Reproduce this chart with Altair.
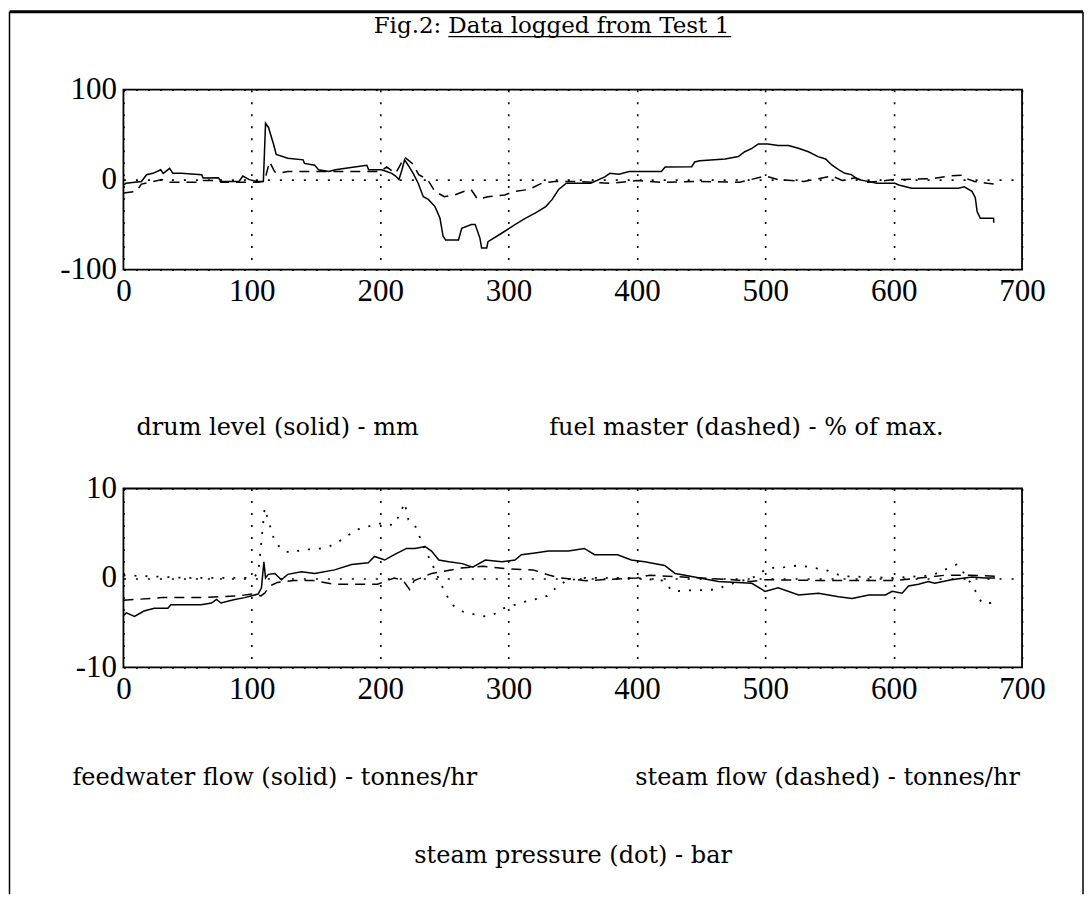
import altair as alt
import pandas as pd

# ---------------- data ----------------
x_ticks = [0, 100, 200, 300, 400, 500, 600, 700]
top_y_ticks = [-100, 0, 100]
bot_y_ticks = [-10, 0, 10]

# top panel: drum level (solid) - mm
drum_t = [0, 2, 14, 18, 23, 29, 31, 36, 38.5, 45, 61, 62, 74, 76, 90, 93, 98, 104, 109,
          110.7, 113, 117, 119, 128, 140, 141, 149, 152, 160, 165, 180, 189.6, 191, 201,
          205, 209, 212, 214.6, 217, 219, 221.8, 225.7, 229.6, 233.6, 237.5, 242.7, 246.6,
          249, 251, 261, 263.5, 271, 274, 277.7, 279, 283, 284, 294.6, 305, 313, 321, 329,
          334, 339, 345, 364, 375, 379, 386, 394, 404, 419, 422, 442.7, 445, 449, 468.7,
          479, 484, 489.6, 494.6, 502, 510, 518, 525.8, 533.6, 541, 547, 551.8, 557, 562,
          567, 570.5, 573, 587, 601, 604, 614, 650.5, 655, 661, 663.6, 665, 667.5, 677.8, 678]
drum_v = [-6, -4, -2, 5.5, 7, 11, 7, 12.6, 7, 7, 5.5, 1.8, 2, -2, -2, 4, 0, -2, -2,
          62.6, 58, 39, 28, 23.7, 22, 18, 16, 11, 9, 11, 14, 16, 11, 11,
          9, 7, 4, 0, 11, 22, 16, 7, -4, -19, -22, -30, -43,
          -63, -67, -67, -54, -50, -50, -65, -76, -76, -69, -59.6, -50, -43, -37, -30,
          -22, -11, -4, -4, 3, 7, 6, 9, 9, 9, 14, 14.4, 19.6, 21, 23,
          25.6, 31, 34.8, 39.6, 39.6, 38, 38, 34.8, 31, 25.6, 23, 16.3, 11, 7,
          5.6, 2, 0, -4, -4, -6, -9.6, -9.6, -8, -13, -20, -35.6, -43, -43, -48]

# top panel: fuel master (dashed) - % of max.
fuel_t = [0, 10, 14, 20, 30, 35, 60, 62, 75, 76, 105, 108, 110, 113.8, 117.7, 120, 128,
          148.5, 160, 180, 200, 205, 212, 219, 225, 230, 237, 242.6, 250, 258, 265.6,
          270.8, 276, 284, 297, 305, 315.6, 326, 336, 350, 380, 400, 420, 450, 480, 500,
          510, 530, 552, 560, 570, 580, 600, 630, 643, 653, 655, 663, 673, 679]
fuel_v = [-15, -13, -5, -3, 0, -3, -3, -1, -1, -3, -3, -2, -1, 20, 9, 7, 9,
          9, 9, 9, 9, 14, 7, 25, 18, 5.6, 0, -13, -19, -17, -13,
          -11, -22, -19, -17, -13, -11, -4, -2, -2, -4, -1, -3, -2, -3, 4,
          0, -2, 4, -1, 2, -3, 0, 1, 4, 5, 2, -2, -4, -5]

# bottom panel: feedwater flow (solid) - tonnes/hr
fw_t = [0, 2.3, 8.6, 16, 24, 34.6, 37, 52.7, 60.5, 68.6, 72.5, 76, 86.7, 94.5, 104.9,
        107.5, 109.4, 110.7, 112.8, 118, 123, 128, 138.7, 149, 164.5, 177.7, 190.7, 195.6,
        203.5, 211, 220.6, 227, 235, 240, 245.7, 253.5, 264, 272, 282, 294.6, 305, 310,
        320.6, 331, 346.6, 359, 367, 385, 395.6, 406, 421.6, 429.7, 437.5, 463.5, 489.5,
        499.8, 510, 526, 541.5, 557, 567.6, 580.6, 593.6, 598.8, 606.6, 611.6, 619.4, 627,
        632, 645, 661, 671, 679]
fw_v = [-4.2, -3.9, -4.3, -3.7, -3.4, -3.4, -3.0, -3.0, -3.0, -2.8, -2.4, -2.8, -2.4, -2.2, -1.8,
        -1.1, 1.8, 0, 0.4, 0.5, -0.2, 0.4, 0.7, 0.5, 0.9, 1.5, 1.7, 2.4,
        2.0, 2.6, 3.3, 3.3, 3.5, 3.0, 2.0, 1.8, 1.6, 1.2, 2.0, 1.8, 2.0, 2.6,
        2.8, 3.0, 3.0, 3.3, 2.6, 2.6, 2.0, 1.8, 1.4, 0.5, 0.3, -0.4, -0.6,
        -1.5, -1.1, -1.9, -1.7, -2.1, -2.3, -1.9, -1.9, -1.5, -1.7, -0.9, -0.7, -0.4,
        -0.6, -0.2, 0.1, 0, 0]

# bottom panel: steam flow (dashed) - tonnes/hr
sf_t = [0, 10, 30, 60, 90, 100, 107, 110, 114, 120, 133, 148, 164, 198, 211, 218, 223,
        226.5, 240, 263, 280, 300, 319, 332, 340, 360, 400, 410, 449, 475, 488, 500, 550,
        600, 640, 660, 679]
sf_v = [-2.5, -2.4, -2.2, -2.2, -2.0, -1.8, -2.0, -1.7, -0.9, -0.5, -0.3, -0.3, -0.7, -0.7, 0, -0.3, -1.3,
        -0.3, 0.5, 1.1, 1.3, 1.0, 0.9, 0.3, 0, -0.3, 0, 0.3, 0, -0.2, -0.4, -0.2, -0.3,
        -0.3, 0.3, 0.3, 0.2]

# bottom panel: steam pressure (dot) - bar
sp_t = [0, 50, 100, 105, 110, 114, 118, 125, 131, 140, 150, 160, 166, 181.6, 192, 201, 210,
        215, 219, 222, 227, 233.6, 242.6, 250, 256, 265, 280, 287, 296, 305, 314, 323, 330,
        337, 345, 360, 400, 420, 428, 440, 462, 470, 490, 502, 515, 526, 536, 549, 560,
        600, 630, 649, 655, 662, 668.7, 676]
sp_v = [0.3, 0, 0, 0.5, 7.8, 5.9, 4.0, 3.0, 2.8, 3.2, 3.2, 3.5, 3.9, 5.4, 5.8, 6.1, 5.9,
        7.0, 8.4, 6.5, 5.9, 3.6, 0.9, -1.5, -3.0, -3.8, -4.3, -4.2, -3.4, -3.0, -2.6, -2.3, -2.0,
        -1.1, -0.3, 0, 0, -0.3, -1.5, -1.4, -1.3, -0.8, 0, 1.1, 1.2, 1.4, 1.2, 0.8, 0.2,
        0, 0.3, 1.5, 0.5, -1.0, -2.8, -2.8]

title_a = "Fig.2:"
title_b = "Data logged from Test 1"
cap_drum = "drum level (solid) - mm"
cap_fuel = "fuel master (dashed) - % of max."
cap_fw = "feedwater flow (solid) - tonnes/hr"
cap_sf = "steam flow (dashed) - tonnes/hr"
cap_sp = "steam pressure (dot) - bar"

# ---------------- chart ----------------
W, H_TOP, H_BOT = 899, 180, 179
one = pd.DataFrame({"k": [0]})
CAP_FONT = "DejaVu Serif"
HYPHEN_LABEL = "replace(datum.label, '\u2212', '-')"


def series(t, v):
    return pd.DataFrame({"t": t, "v": v})


def xenc():
    return alt.X("t:Q", scale=alt.Scale(domain=[0, 700], nice=False, zero=False),
                 axis=alt.Axis(values=x_ticks, title=None, labelPadding=7,
                               labelAngle=0, labelFlush=False))


def yenc(dom, ticks):
    return alt.Y("v:Q", scale=alt.Scale(domain=dom, nice=False, zero=False),
                 axis=alt.Axis(values=ticks, title=None, labelPadding=7,
                               labelBaseline="middle", labelFlush=False,
                               labelExpr=HYPHEN_LABEL))


def line(t, v, dom, ticks, dash=None, width=1.5):
    kw = dict(color="black", strokeWidth=width, interpolate="linear")
    if dash:
        kw["strokeDash"] = dash
    return alt.Chart(series(t, v)).mark_line(**kw).encode(x=xenc(), y=yenc(dom, ticks))


def label(txt, x, y, size=24, align="left"):
    return alt.Chart(one).mark_text(text=txt, font=CAP_FONT, fontSize=size, align=align,
                                    baseline="alphabetic", color="black").encode(
        x=alt.value(x), y=alt.value(y))


def hrule(x1, x2, y, w=1.5):
    return alt.Chart(one).mark_rule(color="black", strokeWidth=w).encode(
        x=alt.value(x1), x2=alt.value(x2), y=alt.value(y))


def vrule(x, y1, y2, w=1.5):
    return alt.Chart(one).mark_rule(color="black", strokeWidth=w).encode(
        x=alt.value(x), y=alt.value(y1), y2=alt.value(y2))


# top panel (origin at page 122, 88)
top = alt.layer(
    line(drum_t, drum_v, [-100, 100], top_y_ticks),
    line(fuel_t, fuel_v, [-100, 100], top_y_ticks, dash=[10, 7]),
    label(title_a, 318, -57, size=23, align="right"),
    label(title_b, 325, -57, size=23, align="left"),
    hrule(325, 608, -53, w=1.3),
    label(cap_drum, 13, 345),
    label(cap_fuel, 426, 345),
    hrule(-114, 960, -78, w=3),
    vrule(-114, -78, 805),
    vrule(960, -78, 805),
).properties(width=W, height=H_TOP)

# bottom panel (origin at page 122, 487)
bot = alt.layer(
    line(fw_t, fw_v, [-10, 10], bot_y_ticks),
    line(sf_t, sf_v, [-10, 10], bot_y_ticks, dash=[10, 7]),
    line(sp_t, sp_v, [-10, 10], bot_y_ticks, dash=[2, 9], width=1.8),
    label(cap_fw, -51, 297),
    label(cap_sf, 512, 297),
    label(cap_sp, 291, 375),
).properties(width=W, height=H_BOT)

chart = alt.vconcat(top, bot, spacing=219, bounds="flush").properties(
    padding={"left": 6.5, "top": 8.5, "right": 4, "bottom": 0},
    background="white",
).configure_view(
    stroke="black", strokeWidth=1.8
).configure_axis(
    grid=True, gridColor="black", gridDash=[2, 10], gridWidth=1.6, gridOpacity=1,
    domain=False, ticks=False, tickSize=0,
    labelFont="Liberation Serif", labelFontSize=31, labelColor="black",
)

chart.save("out.html", embed_options={"renderer": "svg", "actions": False})
